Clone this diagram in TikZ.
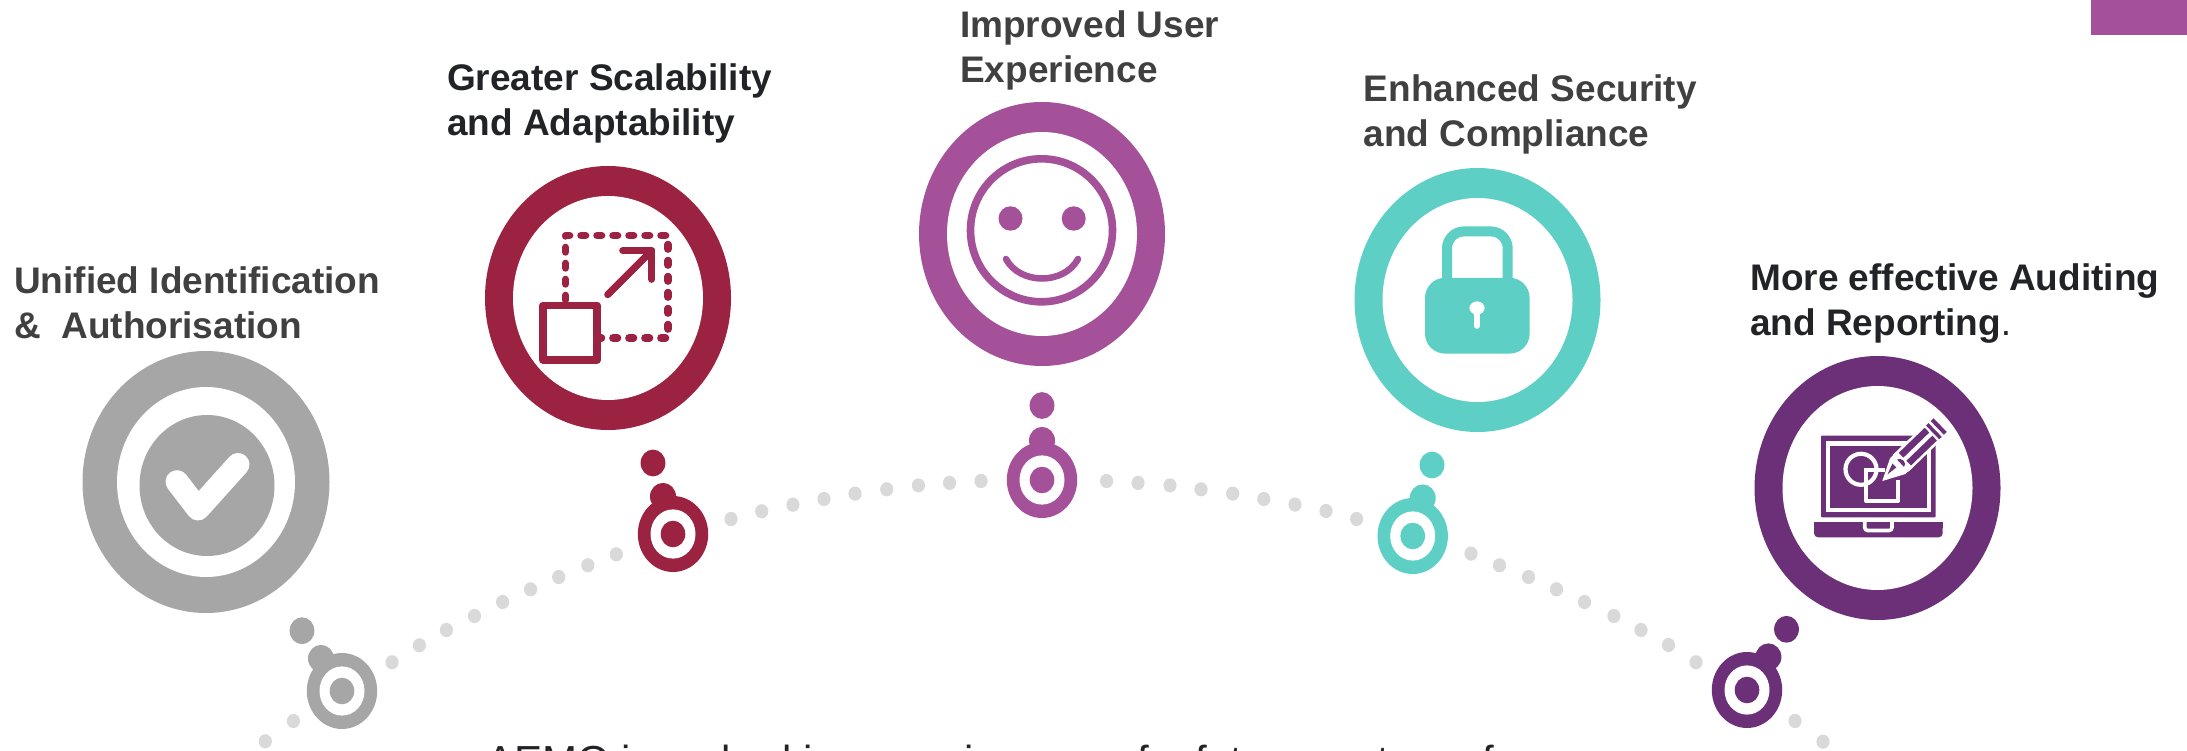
\documentclass[tikz,border=0pt]{standalone}
\usepackage{fontspec}
\setmainfont{Liberation Sans}
\definecolor{cgrey}{HTML}{A6A6A6}
\definecolor{cmaroon}{HTML}{9C2242}
\definecolor{cpurple}{HTML}{A4519A}
\definecolor{cteal}{HTML}{5DCFC4}
\definecolor{cdark}{HTML}{6C3078}
\definecolor{cdot}{HTML}{D9D9D9}
\definecolor{tgrey}{HTML}{404040}
\definecolor{tdark}{HTML}{212326}
\newcommand{\twolines}[2]{\vtop{\baselineskip=44.8pt\hbox{#1}\hbox{#2}}}
\newcommand{\markerglyph}[7]{%
  \fill[#1] (#6,#7) ellipse [x radius=12.4,y radius=13.4];
  \fill[#1] (#4,#5) ellipse [x radius=13,y radius=13.6];
  \fill[#1] (#2,#3) ellipse [x radius=35.2,y radius=38];
  \fill[white] (#2,#3) ellipse [x radius=22.5,y radius=24.6];
  \fill[#1] (#2,#3) ellipse [x radius=12.3,y radius=13.3];
}
\newcommand{\ringglyph}[7]{%
  \fill[#1] (#2,#3) ellipse [x radius=#4,y radius=#5];
  \fill[white] (#2,#3) ellipse [x radius=#6,y radius=#7];
}
\tikzset{
  lbl/.style={anchor=base west,inner sep=0pt,font=\fontsize{37}{45}\selectfont\bfseries},
}
\begin{document}
\begin{tikzpicture}[x=1pt,y=-1pt]
\useasboundingbox (0,0) rectangle (2187,751);
\fill[cpurple] (2091,-1) rectangle (2188,35);
% dotted arc
\foreach \px/\py in {265.3/741.3,293.4/721,392/662.3,419.4/645.3,446.4/630,474.5/616,502.6/602,530.6/589.3,558.7/577,587.8/565.3,616.3/554.3,731/519,761.7/511.3,792.9/504.7,824/499,855/493.6,886.7/489.3,918.4/485.4,949.5/482.9,981/481,1106.6/481,1138/482.9,1170/485.4,1201/489.3,1232.7/493.6,1263.8/499,1295/504.6,1326/511,1356.6/519,1471/553.6,1499.5/565.3,1528.5/577,1556.5/589.3,1584.5/602,1613.9/616,1641/630,1668.5/645,1696/662.3,1795/721,1823/741.7}
  \fill[cdot] (\px,\py) ellipse [x radius=6.6,y radius=7.1];
% markers
\markerglyph{cgrey}{342}{691}{321}{658.5}{302}{630.7}
\markerglyph{cmaroon}{673}{534}{663}{496.5}{653}{463}
\markerglyph{cpurple}{1042}{480}{1042}{440.5}{1042}{405.5}
\markerglyph{cteal}{1412.7}{536}{1422.7}{498}{1432}{465}
\markerglyph{cdark}{1747}{690}{1768.4}{657}{1786.5}{629.3}
% big rings
\ringglyph{cgrey}{206}{482}{123.5}{131}{89}{95}
\ringglyph{cmaroon}{608}{298}{123}{132}{95}{102}
\ringglyph{cpurple}{1042}{234}{123}{132}{95}{102}
\ringglyph{cteal}{1477.5}{300}{123}{132}{95}{102}
\ringglyph{cdark}{1877.5}{488}{123}{132}{95}{102}
% tick icon
\fill[cgrey] (207,485.5) ellipse [x radius=67.5,y radius=70.5];
\draw[white,line width=23pt,line cap=round,line join=round] (177,481.7) -- (198,509) -- (238,464.5);
% scale icon
\draw[cmaroon,line width=7.5pt,line cap=round,line join=round,dash pattern=on 4.6pt off 11.4pt] (565.5,300) -- (565.5,235.5) -- (668,235.5) -- (668,338) -- (601,338);
\draw[cmaroon,line width=7.6pt,line join=round] (542.8,305.4) rectangle (597.2,359.8);
\draw[cmaroon,line width=7pt,line cap=round,line join=round] (607.7,294.7) -- (651.7,250.7);
\draw[cmaroon,line width=7pt,line cap=round,line join=round] (622.7,250.7) -- (651.7,250.7) -- (651.7,279.4);
% smile icon
\draw[cpurple,line width=7.6pt] (1041.5,230.3) ellipse [x radius=71,y radius=71.5];
\fill[cpurple] (1010.5,218.5) ellipse [x radius=12,y radius=12.2];
\fill[cpurple] (1073.7,218.5) ellipse [x radius=12,y radius=12.2];
\draw[cpurple,line width=6.5pt,line cap=round] (1006,259) .. controls (1020,285) and (1064,285) .. (1078,259);
% lock icon
\draw[cteal,line width=10pt,rounded corners=17pt] (1447,290) -- (1447,231.4) -- (1507.7,231.4) -- (1507.7,290);
\fill[cteal,rounded corners=20pt] (1425,277.8) rectangle (1529.6,353.6);
\fill[white] (1477,308) ellipse [x radius=7.6,y radius=6.6];
\draw[white,line width=5.6pt,line cap=round] (1477,310) -- (1477,326);
% laptop icon
\fill[cdark,rounded corners=1pt] (1821,435.7) rectangle (1935.7,517.3);
\draw[white,line width=4.6pt] (1828,443.3) rectangle (1929,510);
\fill[cdark,rounded corners=4pt] (1814,522) -- (1942.7,522) -- (1942.7,537.3) -- (1814,537.3) -- cycle;
\fill[cdark] (1814,522) rectangle (1942.7,528);
\draw[white,line width=3.6pt,rounded corners=3pt] (1864.7,520) -- (1864.7,530.5) -- (1892,530.5) -- (1892,520);
\draw[white,line width=4.2pt] (1861,469.3) circle [radius=15.5];
\draw[white,line width=4.2pt,line join=round] (1866.3,490) -- (1866.3,501) -- (1897.7,501) -- (1897.7,480);
\draw[white,line width=4.2pt] (1866.3,490) -- (1866.3,470) -- (1885,470);
\begin{scope}[shift={(1883.3,480)},rotate=44]
  \fill[white] (-1.5,0) -- (20,-11) -- (28,-11) -- (28,11) -- (20,11) -- cycle;
  \fill[cdark] (7,-1.2) -- (18,-5.5) -- (18,0) -- cycle;
  \fill[white] (24,-11.5) rectangle (68,11.5);
  \fill[cdark] (30,-8.8) rectangle (66,-2.2);
  \fill[cdark] (30,2.2) rectangle (66,8.8);
  \fill[cdark] (24,-5) arc [start angle=-90,end angle=90,x radius=4,y radius=5] -- cycle;
  \fill[cdark] (68.5,-9.5) rectangle (72,9.5);
  \fill[cdark] (75,-9.5) rectangle (79,9.5);
\end{scope}
% labels
\node[lbl,text=tgrey] (unified) at (14,293.8) {\twolines{Unified Identification}{\&\ \ Authorisation}};
\node[lbl,text=tdark] (greater) at (447,91) {\twolines{Greater Scalability}{and Adaptability}};
\node[lbl,text=tgrey] (improved) at (960,37.5) {\twolines{Improved User}{Experience}};
\node[lbl,text=tgrey] (enhanced) at (1363.5,102) {\twolines{Enhanced Security}{and Compliance}};
\node[lbl,text=tdark] (auditing) at (1750,290.5) {\twolines{More effective Auditing}{and Reporting\mdseries.}};
\node[anchor=base west,inner sep=0pt,font=\fontsize{42}{50}\selectfont,text=tdark] (aemo) at (486,775) {AEMO is embarking on a journey of a future system of};
\end{tikzpicture}
\end{document}
